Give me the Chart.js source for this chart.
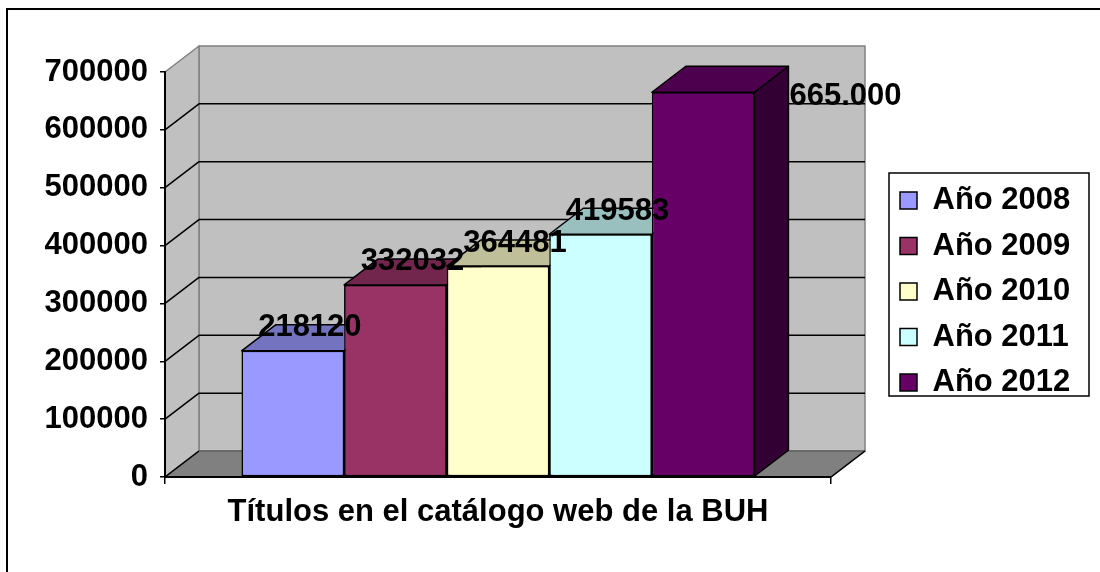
<!DOCTYPE html>
<html>
<head>
<meta charset="utf-8">
<script src="https://cdn.jsdelivr.net/npm/chart.js@4.4.0/dist/chart.umd.min.js"></script>
<style>
html,body{margin:0;padding:0;background:#fff;}
canvas{display:block;}
</style>
</head>
<body>
<canvas id="c" width="1100" height="572"></canvas>
<script>
// ---- data ----
const categories = ['Títulos en el catálogo web de la BUH'];
const seriesNames = ['Año 2008', 'Año 2009', 'Año 2010', 'Año 2011', 'Año 2012'];
const seriesValues = [218120, 332032, 364481, 419583, 665000];
const valueLabels = ['218120', '332032', '364481', '419583', '665.000'];
const seriesColors = ['#9999FF', '#993366', '#FFFFCC', '#CCFFFF', '#660066'];
const yTickValues = [0, 100000, 200000, 300000, 400000, 500000, 600000, 700000];
const yTickLabels = ['0', '100000', '200000', '300000', '400000', '500000', '600000', '700000'];

const FONT = "'Liberation Sans', Arial, sans-serif";
const DX = 34, DY = -26;

function shade(hex, f) {
  const n = parseInt(hex.slice(1), 16);
  const r = Math.round(((n >> 16) & 255) * f);
  const g = Math.round(((n >> 8) & 255) * f);
  const b = Math.round((n & 255) * f);
  return 'rgb(' + r + ',' + g + ',' + b + ')';
}
function poly(ctx, pts, fill, stroke, lw) {
  ctx.beginPath();
  ctx.moveTo(pts[0][0], pts[0][1]);
  for (let i = 1; i < pts.length; i++) ctx.lineTo(pts[i][0], pts[i][1]);
  ctx.closePath();
  if (fill) { ctx.fillStyle = fill; ctx.fill(); }
  if (stroke) { ctx.strokeStyle = stroke; ctx.lineWidth = lw || 1; ctx.lineJoin = 'round'; ctx.stroke(); }
}
function line(ctx, pts, color, lw) {
  ctx.beginPath();
  ctx.moveTo(pts[0][0], pts[0][1]);
  for (let i = 1; i < pts.length; i++) ctx.lineTo(pts[i][0], pts[i][1]);
  ctx.strokeStyle = color; ctx.lineWidth = lw; ctx.stroke();
}

const threeD = {
  id: 'threeD',
  afterLayout(chart) {
    const lg = chart.legend;
    if (!lg) return;
    const p = lg.options.labels.padding;
    lg.left = 900 - p;
    lg.top = 185 - p;
    lg.right = 1100;
    lg.bottom = 572;
    lg.width = lg.right - lg.left;
    lg.height = lg.bottom - lg.top;
  },
  beforeDraw(chart) {
    const ctx = chart.ctx;
    const a = chart.chartArea;
    const y = chart.scales.y;
    ctx.save();
    ctx.fillStyle = '#fff';
    ctx.fillRect(0, 0, chart.width, chart.height);
    ctx.strokeStyle = '#000';
    ctx.lineWidth = 2;
    ctx.strokeRect(7, 9, chart.width + 20, chart.height + 20);

    const L = a.left, R = a.right;
    const T = y.getPixelForValue(yTickValues[yTickValues.length - 1]);
    const B = y.getPixelForValue(0);
    // back wall
    poly(ctx, [[L + DX, T + DY], [R + DX, T + DY], [R + DX, B + DY], [L + DX, B + DY]], '#C0C0C0', '#808080', 1.5);
    // side wall
    poly(ctx, [[L, T], [L + DX, T + DY], [L + DX, B + DY], [L, B]], '#C0C0C0', '#808080', 1.5);
    // floor
    poly(ctx, [[L, B], [L + DX, B + DY], [R + DX, B + DY], [R, B]], '#808080', '#606060', 1.5);
    // gridlines
    yTickValues.forEach((v, i) => {
      if (i === 0 || i === yTickValues.length - 1) return;
      const py = y.getPixelForValue(v);
      line(ctx, [[L, py], [L + DX, py + DY], [R + DX, py + DY]], '#000', 1.5);
    });
    // floor side edges
    line(ctx, [[L, B], [L + DX, B + DY]], '#000', 1.5);
    line(ctx, [[R, B], [R + DX, B + DY]], '#000', 1.5);
    ctx.restore();
  },
  afterDatasetsDraw(chart) {
    const ctx = chart.ctx;
    ctx.save();
    const bars = [];
    chart.data.datasets.forEach((ds, i) => {
      const meta = chart.getDatasetMeta(i);
      const el = meta.data[0];
      const p = el.getProps(['x', 'y', 'base', 'width'], true);
      const l = p.x - p.width / 2, r = p.x + p.width / 2;
      const top = p.y, base = p.base;
      const col = ds.backgroundColor;
      // right side face
      poly(ctx, [[r, top], [r + DX, top + DY], [r + DX, base + DY], [r, base]], shade(col, 0.5), '#000', 1.5);
      // top face
      poly(ctx, [[l, top], [l + DX, top + DY], [r + DX, top + DY], [r, top]], shade(col, 0.75), '#000', 1.5);
      // front face (library element)
      el.draw(ctx);
      bars.push({ x: p.x, l, r, top });
    });
    // value labels
    ctx.fillStyle = '#000';
    ctx.font = 'bold 31px ' + FONT;
    bars.forEach((b, i) => {
      if (i === bars.length - 1) {
        ctx.textAlign = 'left';
        ctx.textBaseline = 'alphabetic';
        ctx.fillText(valueLabels[i], b.r + DX + 1, b.top + 12.5);
      } else {
        ctx.textAlign = 'center';
        ctx.textBaseline = 'alphabetic';
        ctx.fillText(valueLabels[i], b.x + DX / 2, b.top + DY / 2 - 1.5);
      }
    });
    ctx.restore();
  },
  afterDraw(chart) {
    const ctx = chart.ctx;
    ctx.save();
    ctx.strokeStyle = '#000';
    ctx.lineWidth = 1.5;
    ctx.strokeRect(889, 173, 200, 223);
    ctx.restore();
  }
};

const datasets = seriesNames.map((name, i) => ({
  label: name,
  data: [seriesValues[i]],
  backgroundColor: seriesColors[i],
  borderColor: '#000',
  borderWidth: 1.5,
  borderSkipped: false,
  barPercentage: 1.0,
  categoryPercentage: 0.77
}));

new Chart(document.getElementById('c'), {
  type: 'bar',
  data: { labels: categories, datasets },
  options: {
    responsive: false,
    animation: false,
    devicePixelRatio: 1,
    layout: { padding: { left: 0, top: 72, right: 269, bottom: 0 } },
    plugins: {
      tooltip: { enabled: false },
      legend: {
        display: true,
        position: 'chartArea',
        align: 'start',
        labels: {
          boxWidth: 17,
          boxHeight: 17,
          padding: 14.5,
          color: '#000',
          font: { family: FONT, size: 31, weight: 'bold' }
        }
      }
    },
    scales: {
      x: {
        type: 'category',
        offset: true,
        afterFit(s) { s.height = 95; },
        grid: { display: true, drawOnChartArea: false, drawTicks: true, tickLength: 7, color: '#000', lineWidth: 1.5, offset: true },
        border: { display: true, color: '#000', width: 2 },
        ticks: { color: '#000', padding: 9.5, maxRotation: 0, autoSkip: false, font: { family: FONT, size: 31, weight: 'bold' } }
      },
      y: {
        type: 'linear',
        min: yTickValues[0],
        max: yTickValues[yTickValues.length - 1],
        afterFit(s) { s.width = 165; },
        afterBuildTicks(s) { s.ticks = yTickValues.map(v => ({ value: v })); },
        grid: { display: true, drawOnChartArea: false, drawTicks: true, tickLength: 5, color: '#000', lineWidth: 1.5 },
        border: { display: true, color: '#000', width: 2 },
        ticks: {
          color: '#000',
          padding: 12,
          font: { family: FONT, size: 31, weight: 'bold' },
          callback(v) { const i = yTickValues.indexOf(v); return i >= 0 ? yTickLabels[i] : ''; }
        }
      }
    }
  },
  plugins: [threeD]
});
</script>
</body>
</html>
